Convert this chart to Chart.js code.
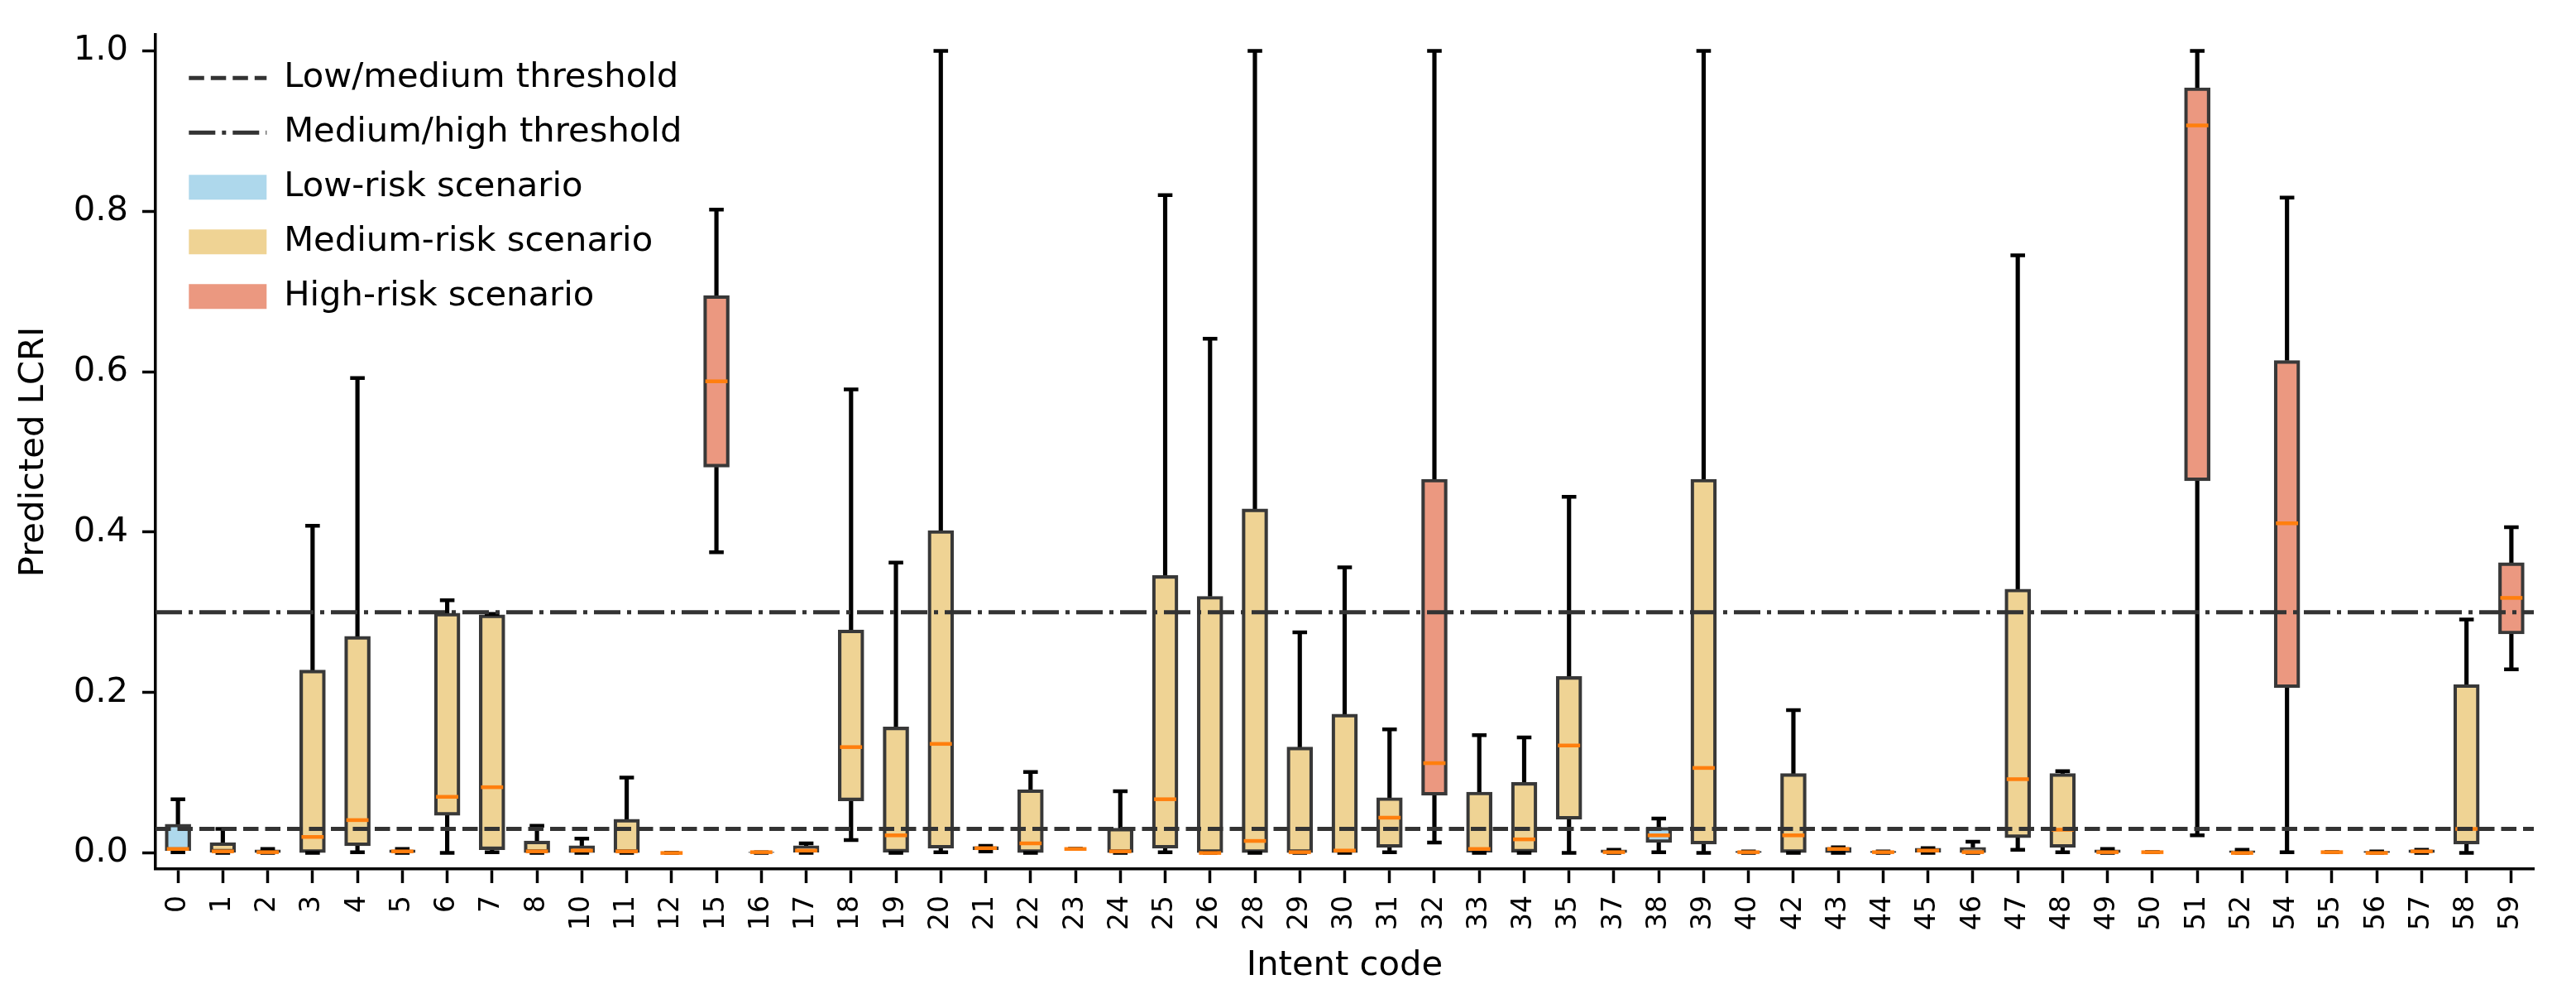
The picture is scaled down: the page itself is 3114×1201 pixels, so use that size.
<!DOCTYPE html>
<html>
<head>
<meta charset="utf-8">
<script src="https://cdn.jsdelivr.net/npm/chart.js@4"></script>
<style>
  html, body { margin: 0; padding: 0; background: #fff; overflow: hidden; }
  canvas { display: block; }
</style>
</head>
<body>
<canvas id="chart_box" width="3114" height="1201"></canvas>
<script>
// intent codes on the x axis
const codes = ['0','1','2','3','4','5','6','7','8','10','11','12','15','16','17','18','19','20','21','22','23','24','25','26',
  '28','29','30','31','32','33','34','35','37','38','39','40','42','43','44','45','46','47','48','49','50','51','52','54',
  '55','56','57','58','59']

// scenario risk level per intent
const risk = ['low','medium','medium','medium','medium','medium','medium','medium','medium','medium','medium','medium','high','medium','low','medium','medium','medium','medium','medium','medium','medium','medium','medium',
  'medium','medium','medium','medium','high','medium','medium','medium','medium','low','medium','medium','medium','medium','medium','medium','medium','medium','medium','medium','medium','high','medium','high',
  'medium','medium','medium','medium','high']

// box plot statistics of predicted LCRI
const whiskerLow = [0.001,0,0,0,0.001,0,0,0.001,0,0,0,0,0.375,0,0,0.016,0,0.001,0.002,0,0.005,0,0.001,0,
  0,0,0,0.001,0.013,0,0,0,0,0.001,0,0,0,0,0,0,0,0.004,0.001,0,0.001,0.022,0,0.001,
  0.001,0,0,0,0.229]
const q1 = [0.003,0.001,0,0,0.009,0,0.047,0.004,0,0,0,0,0.481,0,0.001,0.065,0.001,0.006,0.004,0,0.005,0,0.006,0,
  0,0,0,0.007,0.072,0.001,0.001,0.042,0,0.013,0.011,0,0,0,0,0.001,0,0.019,0.007,0,0.001,0.464,0,0.206,
  0.001,0,0,0.011,0.273]
const median = [0.005,0.002,0.001,0.020,0.041,0.002,0.070,0.082,0.002,0.003,0.002,0,0.588,0.001,0.003,0.132,0.022,0.136,0.006,0.012,0.005,0.002,0.067,0,
  0.015,0.001,0.003,0.044,0.112,0.005,0.017,0.134,0.001,0.022,0.106,0.001,0.022,0.005,0.001,0.003,0.001,0.092,0.029,0.001,0.001,0.907,0,0.411,
  0.001,0,0.002,0.030,0.318]
const q3 = [0.036,0.013,0.004,0.228,0.270,0.004,0.299,0.297,0.015,0.009,0.042,0,0.695,0.001,0.009,0.278,0.157,0.402,0.008,0.079,0.005,0.031,0.346,0.320,
  0.429,0.132,0.173,0.069,0.466,0.076,0.088,0.220,0.004,0.032,0.466,0.002,0.099,0.007,0.002,0.006,0.007,0.329,0.099,0.004,0.001,0.954,0.003,0.614,
  0.001,0.002,0.004,0.210,0.362]
const whiskerHigh = [0.067,0.030,0.005,0.408,0.592,0.005,0.315,0.298,0.034,0.018,0.094,0,0.802,0.001,0.012,0.578,0.362,1.0,0.009,0.101,0.005,0.077,0.820,0.641,
  1.0,0.275,0.356,0.154,1.0,0.147,0.144,0.444,0.004,0.043,1.0,0.002,0.178,0.007,0.002,0.006,0.014,0.745,0.102,0.005,0.001,1.0,0.004,0.817,
  0.001,0.002,0.004,0.291,0.406]

// risk thresholds and y tick values
const thresholds = [0.03, 0.3]
const thresholdLabels = ['Low/medium threshold', 'Medium/high threshold']
const riskLabels = ['Low-risk scenario', 'Medium-risk scenario', 'High-risk scenario']
const yTicks = [0, 0.2, 0.4, 0.6, 0.8, 1.0]

const FONT = 'DejaVu Sans'
const fill = { low: '#aed8ec', medium: '#efd394', high: '#eb9880' }
const riskKeys = ['low', 'medium', 'high']
const dashes = [[18.5, 8], [32, 8, 5, 8]]

Chart.defaults.font.family = FONT
Chart.defaults.color = '#000'

// legend sits inside the plot, top-left
const legendPlacer = {
  id: 'legendPlacer',
  afterLayout(chart){
    const lg = chart.legend
    if(!lg) return
    lg.left = chart.chartArea.left + 16
    lg.top = chart.chartArea.top + 7
  }
}

new Chart(document.getElementById('chart_box'), {
  type: 'bar',
  data: {
    labels: codes,
    datasets: [
      {
        label: 'lower whisker',
        data: codes.map((c, i) => [whiskerLow[i], q1[i]]),
        backgroundColor: '#000',
        borderWidth: 0,
        barThickness: 4.5,
        grouped: false,
        order: 6
      },
      {
        label: 'upper whisker',
        data: codes.map((c, i) => [q3[i], whiskerHigh[i]]),
        backgroundColor: '#000',
        borderWidth: 0,
        barThickness: 4.5,
        grouped: false,
        order: 6
      },
      {
        label: 'box',
        data: codes.map((c, i) => [q1[i], q3[i]]),
        backgroundColor: risk.map(r => fill[r]),
        borderColor: '#383838',
        borderWidth: 4.2,
        borderSkipped: false,
        barThickness: 31,
        grouped: false,
        order: 5
      },
      {
        type: 'line',
        label: 'lower cap',
        data: whiskerLow,
        showLine: false,
        pointStyle: 'line',
        pointRadius: 8.8,
        pointBorderWidth: 4.5,
        pointBorderColor: '#000',
        order: 4
      },
      {
        type: 'line',
        label: 'upper cap',
        data: whiskerHigh,
        showLine: false,
        pointStyle: 'line',
        pointRadius: 8.8,
        pointBorderWidth: 4.5,
        pointBorderColor: '#000',
        order: 4
      },
      {
        type: 'line',
        label: 'median',
        data: median,
        showLine: false,
        pointStyle: 'line',
        pointRadius: 13.4,
        pointBorderWidth: 4.5,
        pointBorderColor: '#ff7f0e',
        order: 3
      },
      ...thresholds.map((t, k) => ({
        type: 'line',
        label: thresholdLabels[k],
        xAxisID: 'x2',
        data: [{x: 0, y: t}, {x: 1, y: t}],
        borderColor: '#333',
        borderWidth: 5,
        borderDash: dashes[k],
        pointRadius: 0,
        order: 1
      }))
    ]
  },
  options: {
    responsive: false,
    devicePixelRatio: 1,
    animation: false,
    layout: { padding: { left: 0, right: 51, top: 29.3, bottom: 0 } },
    plugins: {
      tooltip: { enabled: false },
      legend: {
        position: 'chartArea',
        align: 'start',
        fullSize: false,
        labels: {
          usePointStyle: true,
          pointStyleWidth: 94,
          boxHeight: 30,
          padding: 24.3,
          color: '#000',
          font: { size: 41.7, family: FONT },
          generateLabels(){
            const items = thresholdLabels.map((t, k) => ({
              text: t,
              pointStyle: 'line',
              fillStyle: 'rgba(0,0,0,0)',
              strokeStyle: '#333',
              lineWidth: 5,
              lineDash: dashes[k],
              hidden: false
            }))
            riskLabels.forEach((t, k) => items.push({
              text: t,
              pointStyle: 'rect',
              fillStyle: fill[riskKeys[k]],
              strokeStyle: fill[riskKeys[k]],
              lineWidth: 0,
              hidden: false
            }))
            return items
          }
        }
      }
    },
    scales: {
      x: {
        type: 'category',
        offset: true,
        grid: { display: true, offset: false, drawOnChartArea: false, drawTicks: true, tickLength: 17, tickWidth: 3.5, tickColor: '#000' },
        border: { display: true, color: '#000', width: 3.5 },
        ticks: { autoSkip: false, minRotation: 90, maxRotation: 90, padding: 15, color: '#000', font: { size: 33, family: FONT } },
        title: { display: true, text: 'Intent code', color: '#000', font: { size: 41.7, family: FONT }, padding: { top: 0, bottom: 9 } },
        afterFit(scale){ scale.height = 151 }
      },
      x2: {
        type: 'linear',
        min: 0,
        max: 1,
        offset: false,
        bounds: 'ticks',
        display: false,
        grid: { offset: false }
      },
      y: {
        type: 'linear',
        min: -0.02,
        max: 1.02,
        afterBuildTicks(scale){ scale.ticks = yTicks.map(v => ({ value: v })) },
        grid: { display: true, drawOnChartArea: false, drawTicks: true, tickLength: 16, tickWidth: 3.5, tickColor: '#000' },
        border: { display: true, color: '#000', width: 3.5 },
        ticks: { padding: 17, color: '#000', font: { size: 41.7, family: FONT }, callback: v => Number(v).toFixed(1) },
        title: { display: true, text: 'Predicted LCRI', color: '#000', font: { size: 41.7, family: FONT }, padding: { top: 16, bottom: 0 } },
        afterFit(scale){ scale.width = 188 }
      }
    }
  },
  plugins: [legendPlacer]
})
</script>
</body>
</html>
